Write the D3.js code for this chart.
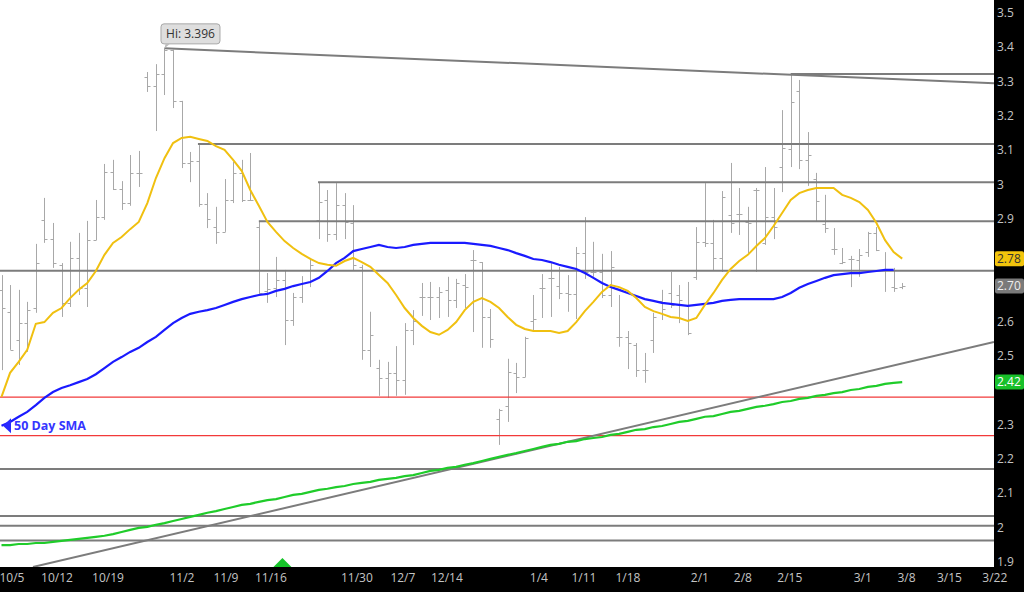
<!DOCTYPE html>
<html><head><meta charset="utf-8">
<script src="https://cdn.jsdelivr.net/npm/d3@7"></script>
<style>
html,body{margin:0;padding:0;background:#fff;overflow:hidden}
text{font-family:"Open Sans",sans-serif}
</style>
</head><body>
<svg id="chart" width="1024" height="592"></svg>
<script>
// ---------- DATA ----------
const opens = [2.692,2.628,2.546,2.595,2.639,2.896,2.840,2.765,2.654,2.785,2.697,2.837,2.904,3.036,2.986,2.945,3.033,3.313,3.286,3.321,3.390,3.243,3.062,3.068,2.942,2.875,2.861,2.954,3.033,2.954,2.875,2.689,2.697,2.721,2.604,2.671,2.715,2.896,2.954,2.855,2.939,2.887,2.759,2.517,2.464,2.435,2.450,2.429,2.575,2.671,2.671,2.671,2.692,2.662,2.706,2.779,2.773,2.613,2.316,2.354,2.450,2.438,2.601,2.697,2.727,2.703,2.683,2.680,2.799,2.744,2.744,2.677,2.555,2.555,2.531,2.458,2.546,2.660,2.683,2.677,2.604,2.730,2.832,2.829,2.785,2.910,2.913,2.890,2.983,2.829,2.904,3.050,3.103,3.272,3.071,3.015,2.884,2.811,2.770,2.782,2.779,2.802,2.858,2.750,2.700,2.700];
const highs = [2.735,2.706,2.692,2.657,2.826,2.960,2.887,2.770,2.832,2.858,2.893,2.954,3.059,3.071,3.009,3.085,3.097,3.327,3.350,3.396,3.392,3.243,3.094,3.114,2.974,2.934,3.015,3.065,3.071,3.091,2.893,2.741,2.788,2.750,2.683,2.732,2.785,3.006,2.983,3.003,2.974,2.939,2.765,2.628,2.488,2.482,2.528,2.595,2.633,2.712,2.715,2.700,2.730,2.724,2.738,2.808,2.773,2.636,2.345,2.491,2.479,2.555,2.677,2.738,2.770,2.759,2.735,2.817,2.904,2.832,2.797,2.805,2.677,2.572,2.537,2.508,2.625,2.692,2.744,2.706,2.715,2.875,3.003,2.896,2.980,3.062,2.989,2.934,2.989,3.050,2.989,3.216,3.324,3.304,3.152,3.033,2.969,2.872,2.814,2.791,2.811,2.861,2.875,2.802,2.756,2.712];
const lows = [2.458,2.517,2.473,2.511,2.625,2.829,2.756,2.613,2.642,2.677,2.642,2.837,2.896,2.983,2.925,2.937,2.992,3.269,3.155,3.260,3.222,3.047,3.006,2.934,2.872,2.826,2.861,2.945,2.948,2.951,2.677,2.654,2.671,2.531,2.587,2.654,2.700,2.840,2.832,2.837,2.840,2.750,2.488,2.467,2.383,2.377,2.383,2.386,2.531,2.616,2.604,2.610,2.613,2.639,2.639,2.569,2.523,2.523,2.240,2.307,2.391,2.438,2.575,2.610,2.613,2.665,2.628,2.607,2.724,2.730,2.668,2.642,2.526,2.461,2.438,2.421,2.508,2.604,2.639,2.595,2.560,2.721,2.817,2.750,2.744,2.858,2.852,2.799,2.744,2.823,2.840,2.977,3.050,3.044,2.995,2.890,2.858,2.794,2.767,2.700,2.730,2.788,2.805,2.686,2.686,2.694];
const closes = [2.639,2.517,2.595,2.633,2.770,2.840,2.770,2.654,2.785,2.697,2.837,2.904,3.036,2.986,2.945,3.033,3.033,3.286,3.321,3.390,3.243,3.062,3.068,2.942,2.899,2.861,2.954,3.033,2.954,2.954,2.683,2.695,2.721,2.604,2.671,2.712,2.765,2.948,2.855,2.939,2.890,2.765,2.517,2.561,2.435,2.450,2.429,2.575,2.601,2.671,2.671,2.686,2.662,2.712,2.700,2.779,2.613,2.549,2.342,2.453,2.438,2.552,2.607,2.697,2.727,2.683,2.680,2.799,2.744,2.744,2.677,2.759,2.555,2.537,2.458,2.458,2.613,2.636,2.648,2.662,2.566,2.832,2.829,2.785,2.963,2.887,2.913,2.887,2.983,2.904,2.875,3.106,3.240,3.071,3.085,2.951,2.872,2.811,2.773,2.782,2.794,2.858,2.808,2.750,2.697,2.703];

// short moving average (yellow)
const emaShort = [2.380,2.450,2.482,2.517,2.593,2.598,2.625,2.639,2.668,2.692,2.712,2.747,2.794,2.829,2.846,2.869,2.890,2.945,3.018,3.076,3.120,3.135,3.138,3.132,3.126,3.111,3.100,3.071,3.039,2.983,2.937,2.890,2.861,2.834,2.814,2.797,2.782,2.770,2.765,2.762,2.776,2.785,2.773,2.759,2.735,2.712,2.677,2.639,2.610,2.587,2.569,2.561,2.575,2.598,2.633,2.657,2.668,2.657,2.639,2.613,2.590,2.578,2.572,2.572,2.572,2.566,2.572,2.598,2.630,2.657,2.686,2.706,2.700,2.689,2.668,2.642,2.630,2.622,2.613,2.610,2.601,2.610,2.648,2.683,2.721,2.753,2.776,2.794,2.820,2.843,2.878,2.916,2.954,2.974,2.983,2.989,2.989,2.989,2.969,2.960,2.948,2.925,2.887,2.837,2.802,2.783];
// 50 day SMA (blue)
const sma50 = [2.296,2.307,2.322,2.336,2.356,2.377,2.394,2.406,2.414,2.423,2.432,2.446,2.464,2.482,2.496,2.511,2.523,2.540,2.555,2.575,2.595,2.610,2.622,2.628,2.633,2.639,2.648,2.657,2.665,2.671,2.677,2.680,2.689,2.695,2.703,2.709,2.715,2.727,2.747,2.770,2.785,2.805,2.811,2.817,2.823,2.817,2.814,2.817,2.823,2.826,2.829,2.829,2.829,2.829,2.829,2.826,2.823,2.820,2.814,2.808,2.799,2.791,2.782,2.779,2.773,2.765,2.759,2.753,2.741,2.727,2.712,2.700,2.692,2.683,2.674,2.665,2.660,2.654,2.651,2.648,2.645,2.648,2.651,2.654,2.660,2.663,2.665,2.665,2.665,2.665,2.665,2.671,2.683,2.698,2.709,2.718,2.727,2.735,2.738,2.741,2.741,2.744,2.747,2.750,2.750];
// long SMA (green)
const smaLong = [1.948,1.948,1.951,1.951,1.954,1.954,1.957,1.960,1.963,1.966,1.969,1.972,1.975,1.980,1.986,1.992,1.998,2.001,2.007,2.012,2.018,2.024,2.030,2.036,2.042,2.047,2.053,2.059,2.065,2.068,2.074,2.079,2.082,2.088,2.094,2.097,2.103,2.109,2.112,2.117,2.120,2.126,2.129,2.132,2.138,2.141,2.144,2.149,2.152,2.158,2.164,2.167,2.173,2.176,2.182,2.187,2.193,2.199,2.205,2.211,2.216,2.222,2.228,2.234,2.240,2.243,2.249,2.251,2.257,2.260,2.263,2.269,2.272,2.278,2.284,2.286,2.292,2.295,2.301,2.307,2.310,2.316,2.322,2.324,2.330,2.336,2.339,2.345,2.351,2.354,2.359,2.365,2.368,2.374,2.377,2.383,2.386,2.391,2.394,2.400,2.403,2.409,2.412,2.418,2.421,2.423];

// horizontal drawn levels: price and the bar index where each starts
const grayLevels     = [3.321, 3.117, 3.006, 2.892, 2.748, 2.170, 2.033, 2.004, 1.961];
const grayLevelStart = [92,    22.9,  36.9,  30.0,  -1,    -1,    -1,    -1,    -1];
const redLevels      = [2.379, 2.267];
// trendlines: [barIndex, price] end points
const trendDown = [[19, 3.396], [115.7, 3.294]];
const trendUp   = [[3.67, 1.884], [115.7, 2.540]];

const yTicks = [1.9, 2, 2.1, 2.2, 2.3, 2.4, 2.5, 2.6, 2.7, 2.8, 2.9, 3, 3.1, 3.2, 3.3, 3.4, 3.5];
const xTickLabels = ["10/5","10/12","10/19","11/2","11/9","11/16","11/30","12/7","12/14","1/4","1/11","1/18","2/1","2/8","2/15","3/1","3/8","3/15","3/22"];
const xTickIndex  = [1.22, 6.47, 12.41, 21.04, 26.17, 31.41, 41.43, 46.79, 51.92, 62.65, 67.89, 73.02, 81.41, 86.42, 91.9, 100.4, 105.5, 110.5, 115.8];
const hiIndex = 19, hiValue = 3.396;
const signalIndex = 32.75;

// ---------- CHART ----------
const W = 1024, H = 592, plotR = 994, plotB = 567;
const svg = d3.select("#chart");
const x = d3.scaleLinear().domain([0, 115.7]).range([1.5, 994]);
const y = d3.scaleLinear().domain([1.9, 3.5]).range([561.5, 12.7]);

svg.append("rect").attr("width", W).attr("height", H).attr("fill", "#fff");
svg.append("defs").append("clipPath").attr("id", "clip")
  .append("rect").attr("x", 0).attr("y", 0).attr("width", plotR).attr("height", plotB);
const g = svg.append("g").attr("clip-path", "url(#clip)");

// OHLC bars
const bars = g.append("g").attr("stroke", "#a8a8a8").attr("stroke-width", 1);
opens.forEach((o, i) => {
  const cx = Math.round(x(i)) + 0.5;
  bars.append("line").attr("x1", cx).attr("x2", cx).attr("y1", y(highs[i])).attr("y2", y(lows[i]));
  bars.append("line").attr("x1", cx - 3).attr("x2", cx).attr("y1", Math.round(y(o)) + 0.5).attr("y2", Math.round(y(o)) + 0.5);
  bars.append("line").attr("x1", cx).attr("x2", cx + 3).attr("y1", Math.round(y(closes[i])) + 0.5).attr("y2", Math.round(y(closes[i])) + 0.5);
});

// red levels
redLevels.forEach(v => {
  g.append("line").attr("x1", 0).attr("x2", plotR).attr("y1", y(v)).attr("y2", y(v))
    .attr("stroke", "#f23a3a").attr("stroke-width", 1.3);
});
// gray levels
grayLevels.forEach((v, k) => {
  const s = grayLevelStart[k];
  g.append("line").attr("x1", s < 0 ? 0 : x(s)).attr("x2", plotR).attr("y1", y(v)).attr("y2", y(v))
    .attr("stroke", "#7c7c7c").attr("stroke-width", 2);
});
// trendlines
[trendDown, trendUp].forEach(t => {
  g.append("line").attr("x1", x(t[0][0])).attr("y1", y(t[0][1])).attr("x2", x(t[1][0])).attr("y2", y(t[1][1]))
    .attr("stroke", "#7c7c7c").attr("stroke-width", 2);
});

// moving averages
const lineGen = d3.line().x((d, i) => x(i)).y(d => y(d));
g.append("path").datum(smaLong).attr("d", lineGen).attr("fill", "none").attr("stroke", "#1fcc2a").attr("stroke-width", 2.2);
g.append("path").datum(sma50).attr("d", lineGen).attr("fill", "none").attr("stroke", "#1a1aff").attr("stroke-width", 2.2);
g.append("path").datum(emaShort).attr("d", lineGen).attr("fill", "none").attr("stroke", "#f0c010").attr("stroke-width", 2);

// 50 Day SMA label
const sy = y(sma50[0]);
g.append("path").attr("d", `M3,${sy} L11,${sy - 7.5} L11,${sy + 7.5} Z`).attr("fill", "#2a2aff");
g.append("text").attr("x", 14).attr("y", sy).attr("dy", "0.35em").text("50 Day SMA")
  .attr("fill", "#3535ff").attr("font-size", 12.5).attr("font-weight", "bold");

// Hi bubble
const hx = x(hiIndex), hy = y(hiValue);
svg.append("path").attr("d", `M${hx},${hy} L${hx + 1},${hy - 4} L${hx + 5},${hy - 4} Z`).attr("fill", "#bbb");
svg.append("rect").attr("x", hx - 3.5).attr("y", hy - 24.5).attr("width", 59).attr("height", 20).attr("rx", 3)
  .attr("fill", "#dedede").attr("stroke", "#a8a8a8");
svg.append("text").attr("x", hx + 26).attr("y", hy - 14.5).attr("dy", "0.35em").attr("text-anchor", "middle")
  .attr("font-size", 12).attr("fill", "#333").text("Hi: " + hiValue.toFixed(3));

// axes backgrounds
svg.append("rect").attr("x", plotR).attr("y", 0).attr("width", W - plotR).attr("height", H).attr("fill", "#000");
svg.append("rect").attr("x", 0).attr("y", plotB).attr("width", W).attr("height", H - plotB).attr("fill", "#000");

// signal marker
const sx = x(signalIndex);
svg.append("path").attr("d", `M${sx - 9},${plotB} L${sx + 9},${plotB} L${sx},${plotB - 9} Z`).attr("fill", "#16c42a");

// price tags (the axis hides tick labels that sit under a tag)
const tags = [
  {v: emaShort[emaShort.length - 1], bg: "#f2c40c", fg: "#333"},
  {v: closes[closes.length - 1], bg: "#7a7a7a", fg: "#eee"},
  {v: smaLong[smaLong.length - 1], bg: "#19c02a", fg: "#fff"}
];
const visibleTicks = yTicks.filter(t => tags.every(tg => Math.abs(y(t) - y(tg.v)) > 13));

// y axis
const yAxis = d3.axisRight(y).tickValues(visibleTicks).tickSize(0).tickPadding(3).tickFormat(d3.format("~g"));
const ya = svg.append("g").attr("transform", `translate(${plotR},0)`).call(yAxis);
ya.select(".domain").remove();
ya.selectAll("text").attr("fill", "#c4c4c4").attr("font-size", 12).attr("font-family", "Open Sans, sans-serif");

// x labels
svg.append("g").selectAll("text").data(xTickLabels).join("text")
  .attr("x", (d, i) => x(xTickIndex[i])).attr("y", 578).attr("dy", "0.35em")
  .attr("text-anchor", "middle").attr("font-size", 12).attr("fill", "#c4c4c4").text(d => d);

tags.forEach(t => {
  const ty = y(t.v);
  svg.append("rect").attr("x", plotR + 1).attr("y", ty - 7.5).attr("width", W - plotR - 1).attr("height", 15).attr("rx", 2).attr("fill", t.bg);
  svg.append("text").attr("x", plotR + 3).attr("y", ty).attr("dy", "0.36em").attr("font-size", 12).attr("fill", t.fg).text(t.v.toFixed(2));
});
</script>
</body></html>
